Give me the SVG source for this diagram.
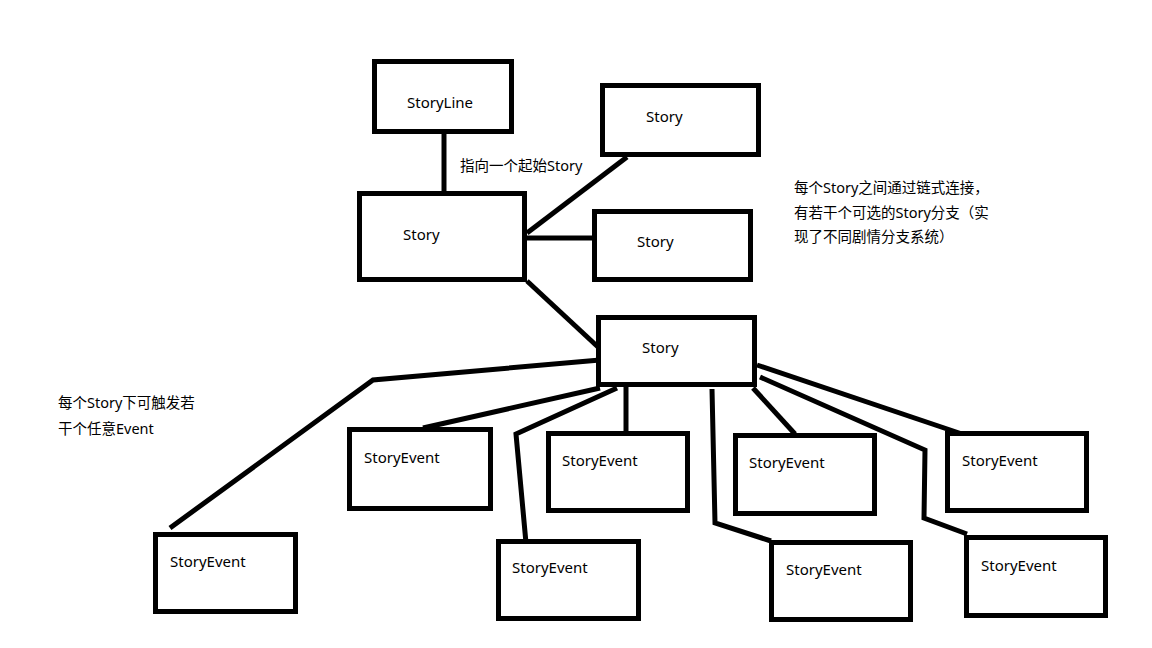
<svg xmlns="http://www.w3.org/2000/svg" width="1152" height="648" viewBox="0 0 1152 648">
<style>
.box{fill:#fff;stroke:#000;stroke-width:5}
.c{fill:none;stroke:#000;stroke-width:5;stroke-linejoin:miter;stroke-linecap:butt}
text{font-family:"Noto Sans","Noto Sans CJK SC",sans-serif;font-size:15px;fill:#000}
.note{font-size:14.5px}
</style>
<rect width="1152" height="648" fill="#fff"/>
<g id="connectors">
<path class="c" d="M444,134 V192"/>
<path class="c" d="M527,233 L627,157"/>
<path class="c" d="M527,238 H594"/>
<path class="c" d="M527,281 L598,347"/>
<path class="c" d="M600,360 L373,380 L170,528"/>
<path class="c" d="M423,428 L600,388"/>
<path class="c" d="M617,388 L516,434 L526,543"/>
<path class="c" d="M626,387 V432"/>
<path class="c" d="M753,388 L795,434"/>
<path class="c" d="M712,389 L715,523 L771,541"/>
<path class="c" d="M757,365 L968,436"/>
<path class="c" d="M760,377 L925,450 L924,518 L967,534"/>
</g>
<g id="storyline"><rect class="box" x="374.5" y="61.5" width="137" height="70"/><text x="407" y="108">StoryLine</text></g>
<g id="story-start"><rect class="box" x="359.5" y="193.5" width="165" height="86"/><text x="403" y="240">Story</text></g>
<g id="story-a"><rect class="box" x="602.5" y="85.5" width="156" height="69"/><text x="646" y="122">Story</text></g>
<g id="story-b"><rect class="box" x="594.5" y="211.5" width="156" height="68"/><text x="637" y="247">Story</text></g>
<g id="story-c"><rect class="box" x="598.5" y="317.5" width="156" height="67"/><text x="642" y="353">Story</text></g>
<g id="event-1"><rect class="box" x="155.5" y="534.5" width="140" height="77"/><text x="170" y="567">StoryEvent</text></g>
<g id="event-2"><rect class="box" x="349.5" y="429.5" width="141" height="79"/><text x="364" y="463">StoryEvent</text></g>
<g id="event-3"><rect class="box" x="498.5" y="541.5" width="140" height="77"/><text x="512" y="573">StoryEvent</text></g>
<g id="event-4"><rect class="box" x="548.5" y="433.5" width="139" height="77"/><text x="562" y="466">StoryEvent</text></g>
<g id="event-5"><rect class="box" x="735.5" y="435.5" width="139" height="78"/><text x="749" y="468">StoryEvent</text></g>
<g id="event-6"><rect class="box" x="771.5" y="542.5" width="139" height="77"/><text x="786" y="575">StoryEvent</text></g>
<g id="event-7"><rect class="box" x="947.5" y="433.5" width="139" height="77"/><text x="962" y="466">StoryEvent</text></g>
<g id="event-8"><rect class="box" x="966.5" y="537.5" width="139" height="78"/><text x="981" y="571">StoryEvent</text></g>
<g id="labels">
<text class="note" x="460" y="171">指向一个起始Story</text>
<text class="note" x="794" y="193">每个Story之间通过链式连接，</text>
<text class="note" x="794" y="218">有若干个可选的Story分支（实</text>
<text class="note" x="794" y="242">现了不同剧情分支系统）</text>
<text class="note" x="58" y="408">每个Story下可触发若</text>
<text class="note" x="58" y="434">干个任意Event</text>
</g>
</svg>
